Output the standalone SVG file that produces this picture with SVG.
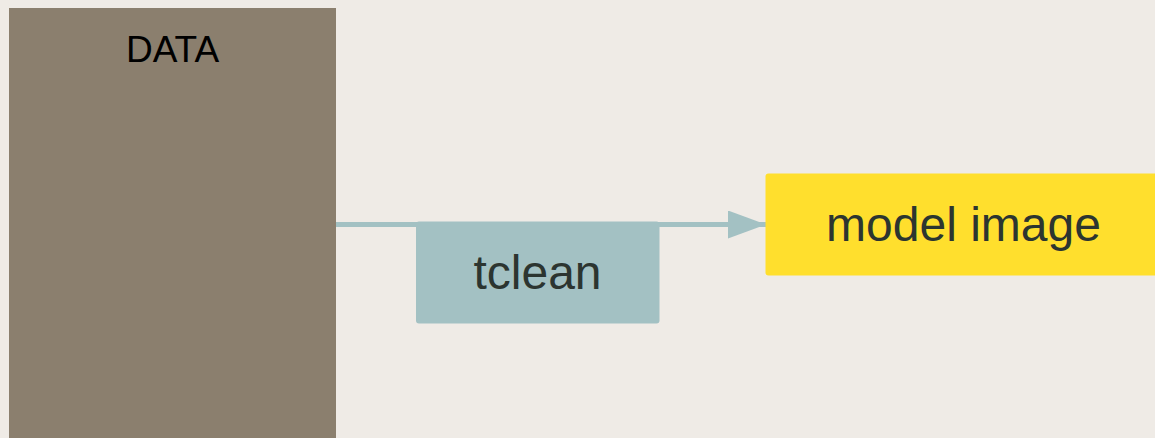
<svg xmlns="http://www.w3.org/2000/svg" width="1155" height="438" viewBox="0 0 1155 438">
  <style>
    .lbl { font-family: "Liberation Sans", Arial, sans-serif; text-anchor: middle; }
    .dark { fill: #2c3530; font-size: 48px; }
  </style>
  <defs>
    <marker id="arrow" markerUnits="userSpaceOnUse" markerWidth="38" markerHeight="28" refX="38" refY="14" orient="auto">
      <path d="M0,0 L38,14 L0,28 Z" fill="#a3c1c3"/>
    </marker>
  </defs>
  <rect x="0" y="0" width="1155" height="438" fill="#efebe6"/>
  <g id="connectors">
    <line x1="336" y1="224.5" x2="766" y2="224.5" stroke="#a3c1c3" stroke-width="5" marker-end="url(#arrow)"/>
  </g>
  <g id="data">
    <rect x="9" y="8" width="327" height="440" fill="#8b7f6e"/>
    <text class="lbl" x="172.5" y="62" font-size="37" fill="#000000">DATA</text>
  </g>
  <g id="tclean">
    <rect x="416" y="221.5" width="243.5" height="102" rx="3" fill="#a3c1c3"/>
    <text class="lbl dark" x="537.5" y="289">tclean</text>
  </g>
  <g id="model-image">
    <rect x="765.5" y="173.5" width="400" height="102" rx="3" fill="#ffdf2d"/>
    <text class="lbl dark" x="963.5" y="241">model image</text>
  </g>
</svg>
